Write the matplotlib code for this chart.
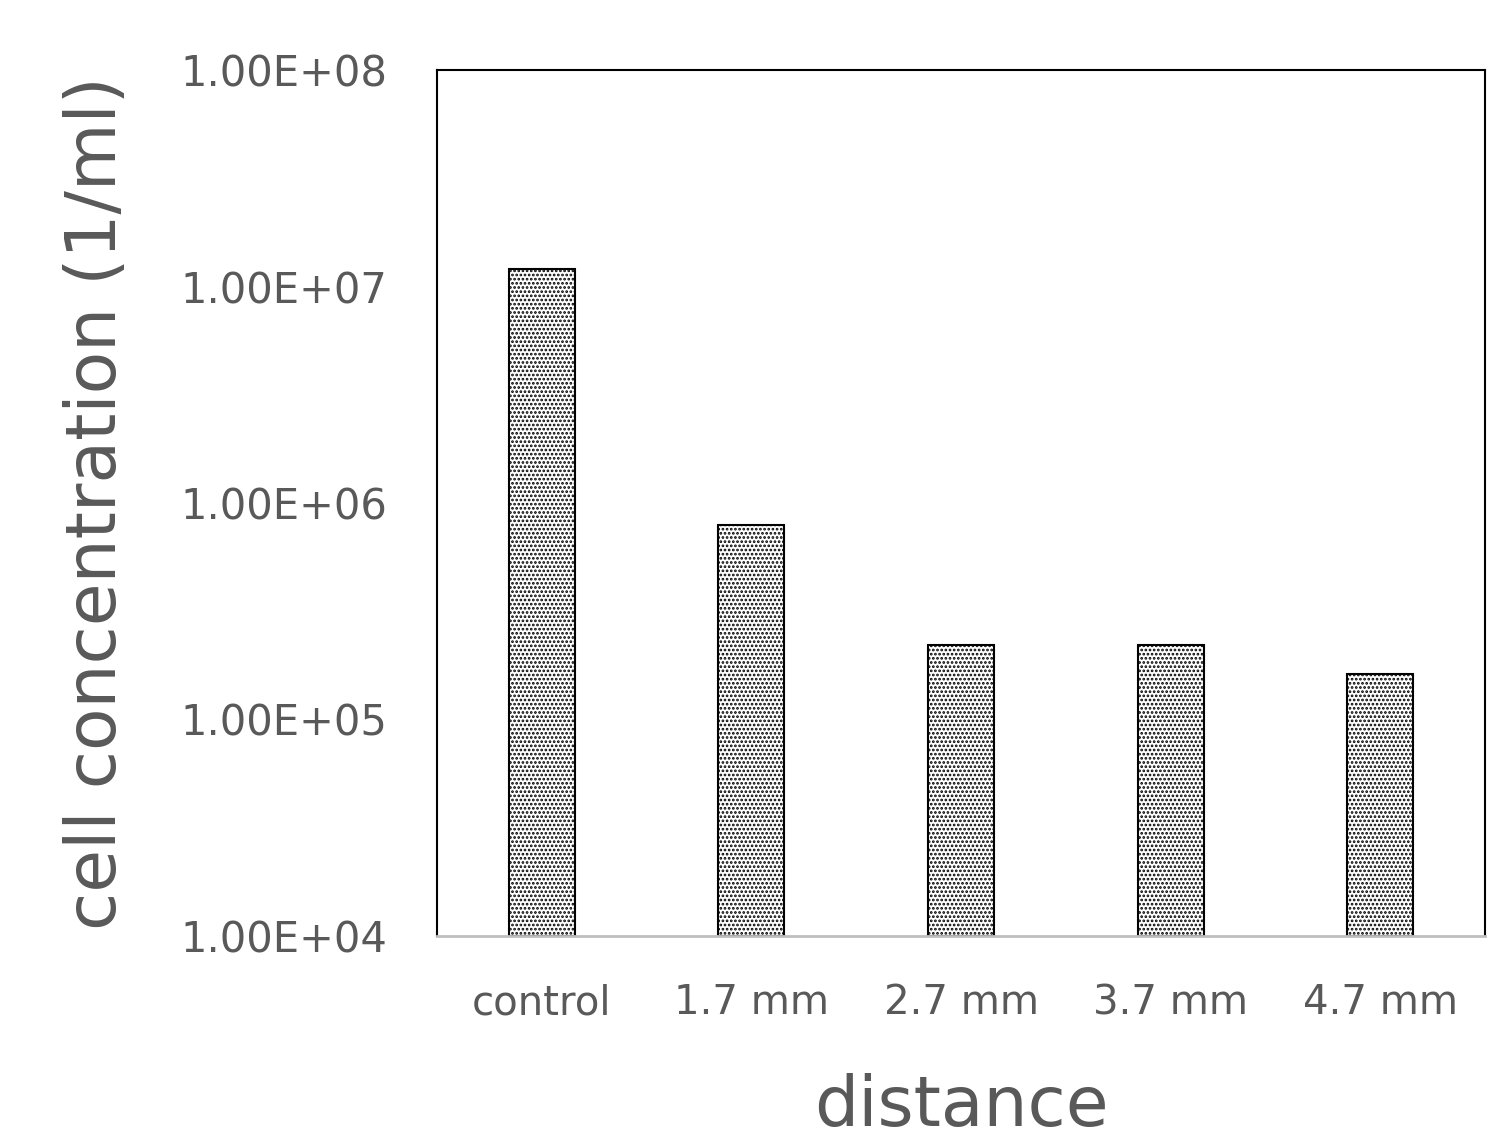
import matplotlib.pyplot as plt
import matplotlib as mpl

plt.rcParams['font.family'] = ['DejaVu Sans']
plt.rcParams['hatch.linewidth'] = 1.3

# データ
categories = ['control', '1.7 mm', '2.7 mm', '3.7 mm', '4.7 mm']
concentration = [1.2e7, 7.8e5, 2.1e5, 2.1e5, 1.52e5]
ytick_values = [1e4, 1e5, 1e6, 1e7, 1e8]
ytick_labels = ['1.00E+04', '1.00E+05', '1.00E+06', '1.00E+07', '1.00E+08']

fig = plt.figure(figsize=(15.09, 11.34), dpi=100)
ax = fig.add_axes([437 / 1509, 1 - 936 / 1134, 1048 / 1509, 866 / 1134])

ax.bar(range(len(categories)), concentration, width=0.315, bottom=1e4,
       color='white', edgecolor='black', linewidth=1.5, hatch='....')

ax.set_yscale('log')
ax.set_ylim(1e4, 1e8)
ax.set_xlim(-0.5, len(categories) - 0.5)
ax.set_yticks(ytick_values)
ax.set_yticklabels(ytick_labels)
ax.yaxis.set_minor_locator(mpl.ticker.NullLocator())
ax.set_xticks(range(len(categories)))
ax.set_xticklabels(categories)

ax.tick_params(axis='y', length=0, pad=36, labelsize=30, labelcolor='#595959')
ax.tick_params(axis='x', length=0, pad=34, labelsize=29, labelcolor='#595959')

for side in ['left', 'top', 'right']:
    ax.spines[side].set_color('black')
    ax.spines[side].set_linewidth(1.5)
ax.spines['bottom'].set_color('#bfbfbf')
ax.spines['bottom'].set_linewidth(2)

ax.set_ylabel('cell concentration (1/ml)', fontsize=50, color='#595959', labelpad=36)
ax.set_xlabel('distance', fontsize=50, color='#595959', labelpad=36)

fig.savefig('out.png', dpi=100)
